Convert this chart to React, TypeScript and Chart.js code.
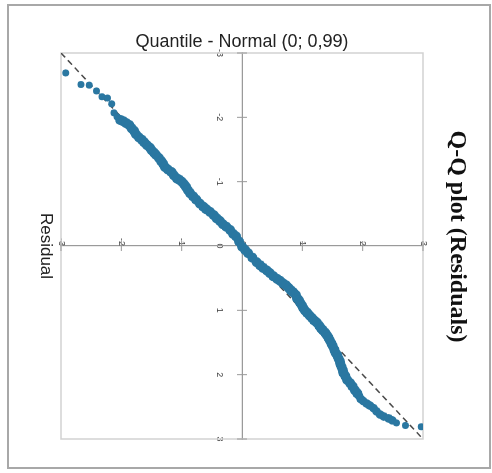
import React, { useEffect, useRef } from 'react';
import { Chart, registerables } from 'chart.js';

Chart.register(...registerables);

// Residuals (x) and theoretical normal quantiles (y), sorted
const residuals = [
  -2.69, -2.51, -2.50, -2.41, -2.32, -2.30, -2.21, -2.07, -2.01, -1.96,
  -1.94, -1.91, -1.88, -1.83, -1.79, -1.74, -1.69, -1.65, -1.61, -1.57,
  -1.53, -1.49, -1.45, -1.42, -1.37, -1.32, -1.28, -1.23, -1.19, -1.15,
  -1.10, -1.05, -1.03, -1.00, -0.96, -0.92, -0.87, -0.82, -0.77, -0.72,
  -0.66, -0.61, -0.57, -0.53, -0.48, -0.43, -0.39, -0.34, -0.30, -0.25,
  -0.19, -0.15, -0.07, 0.01, 0.06, 0.11, 0.18, 0.25, 0.30, 0.34,
  0.38, 0.42, 0.47, 0.51, 0.54, 0.58, 0.61, 0.65, 0.69, 0.72,
  0.76, 0.81, 0.84, 0.88, 0.92, 0.96, 1.00, 1.04, 1.08, 1.12,
  1.16, 1.19, 1.24, 1.28, 1.31, 1.35, 1.38, 1.42, 1.46, 1.51,
  1.55, 1.61, 1.66, 1.70, 1.75, 1.79, 1.83, 1.88, 1.93, 1.97,
  2.02, 2.08, 2.13, 2.18, 2.24, 2.29, 2.33, 2.38, 2.41, 2.45,
  2.48, 2.52, 2.57, 2.62, 2.65, 2.68, 2.71, 2.75, 2.79, 2.81,
];

const normalQuantiles = [
  -2.92, -2.67, -2.53, -2.41, -2.32, -2.23, -2.16, -2.12, -2.07, -2.02,
  -1.97, -1.92, -1.87, -1.83, -1.79, -1.76, -1.71, -1.66, -1.62, -1.58,
  -1.53, -1.50, -1.46, -1.43, -1.38, -1.34, -1.31, -1.28, -1.23, -1.17,
  -1.13, -1.08, -1.04, -1.00, -0.96, -0.93, -0.90, -0.86, -0.81, -0.76,
  -0.70, -0.64, -0.59, -0.53, -0.47, -0.42, -0.37, -0.32, -0.26, -0.20,
  -0.15, -0.10, -0.05, 0.00, 0.05, 0.10, 0.17, 0.24, 0.30, 0.35,
  0.41, 0.46, 0.52, 0.58, 0.63, 0.68, 0.73, 0.77, 0.81, 0.85,
  0.89, 0.91, 0.94, 0.96, 0.99, 1.01, 1.04, 1.08, 1.12, 1.16,
  1.20, 1.24, 1.28, 1.31, 1.34, 1.38, 1.40, 1.43, 1.45, 1.48,
  1.50, 1.53, 1.55, 1.58, 1.60, 1.62, 1.63, 1.65, 1.67, 1.68,
  1.71, 1.74, 1.79, 1.83, 1.87, 1.91, 1.94, 1.97, 2.01, 2.07,
  2.12, 2.18, 2.23, 2.29, 2.35, 2.43, 2.49, 2.56, 2.71, 2.97,
];

const refLineX = [-3, 3];
const refLineY = [-3, 3];
const tickValues = [-3, -2, -1, 0, 1, 2, 3];

const chartTitle = 'Q-Q plot (Residuals)';
const xAxisTitle = 'Residual';
const yAxisTitle = 'Quantile - Normal (0; 0,99)';

const W = 463;
const H = 484;
const SANS = "'Liberation Sans', Arial, sans-serif";
const SERIF = "'Liberation Serif', 'Times New Roman', serif";

const frameAndTicks = {
  id: 'frameAndTicks',
  beforeDatasetsDraw(chart: any) {
    const { ctx, chartArea: a } = chart;
    const xs = chart.scales.x;
    const ys = chart.scales.y;
    ctx.save();
    ctx.strokeStyle = '#d2d2d2';
    ctx.lineWidth = 1.5;
    ctx.strokeRect(a.left, a.top, a.right - a.left, a.bottom - a.top);
    const x0 = xs.getPixelForValue(0);
    const y0 = ys.getPixelForValue(0);
    ctx.strokeStyle = '#9a9a9a';
    ctx.lineWidth = 1;
    ctx.beginPath();
    tickValues.forEach((v) => {
      const px = xs.getPixelForValue(v);
      ctx.moveTo(px, y0 - 5);
      ctx.lineTo(px, y0 + 5);
      const py = ys.getPixelForValue(v);
      ctx.moveTo(x0 - 5, py);
      ctx.lineTo(x0 + 5, py);
    });
    ctx.stroke();
    ctx.restore();
  },
};

// isolated tail points are drawn smaller than the dense central band
const pointSize = (ctx: any) => {
  const i = ctx.dataIndex;
  const n = residuals.length;
  if (i < 9 || i > n - 4) return 3.5;
  if (i > n - 15) return 4.3;
  return 5;
};

export default function App() {
  const ref = useRef<HTMLCanvasElement | null>(null);

  useEffect(() => {
    if (!ref.current) return;
    const points = residuals.map((r, i) => ({ x: r, y: normalQuantiles[i] }));
    const refLine = refLineX.map((x, i) => ({ x, y: refLineY[i] }));
    const setTicks = (s: any) => {
      s.ticks = tickValues.map((v) => ({ value: v }));
    };
    const dummy = {
      type: 'linear',
      display: true,
      border: { display: false },
      grid: { display: false, drawTicks: false },
      ticks: { display: false },
    };
    const chart = new Chart(ref.current, {
      type: 'scatter',
      data: {
        datasets: [
          {
            type: 'line',
            label: 'Reference',
            data: refLine,
            xAxisID: 'x',
            yAxisID: 'y',
            borderColor: '#4a4a4a',
            borderWidth: 1.5,
            borderDash: [6, 4],
            pointRadius: 0,
            fill: false,
            order: 1,
          } as any,
          {
            label: 'Residuals',
            data: points,
            xAxisID: 'x',
            yAxisID: 'y',
            backgroundColor: '#2a77a1',
            borderWidth: 0,
            pointRadius: pointSize,
            order: 0,
          },
        ],
      },
      options: {
        animation: false,
        responsive: false,
        events: [],
        layout: { padding: 0 },
        plugins: {
          legend: { display: false },
          tooltip: { enabled: false },
          title: {
            display: true,
            text: chartTitle,
            color: '#111',
            font: { family: SERIF, size: 24, weight: 'bold', lineHeight: 1.2 },
            padding: { top: 19.6, bottom: 19.6 },
          },
        },
        scales: {
          x: {
            type: 'linear',
            position: { y: 0 } as any,
            min: -3,
            max: 3,
            afterBuildTicks: setTicks,
            border: { display: true, color: '#9a9a9a', width: 1.2 },
            grid: { display: false, drawTicks: false },
            ticks: {
              autoSkip: false,
              maxRotation: 0,
              padding: 17,
              color: '#444',
              font: { family: SANS, size: 9 },
            },
          },
          y: {
            type: 'linear',
            position: { x: 0 } as any,
            min: -3,
            max: 3,
            afterBuildTicks: setTicks,
            border: { display: true, color: '#9a9a9a', width: 1.2 },
            grid: { display: false, drawTicks: false },
            ticks: {
              autoSkip: false,
              padding: 15,
              color: '#444',
              font: { family: SANS, size: 9 },
            },
          },
          xTitle: {
            ...dummy,
            axis: 'x',
            position: 'bottom',
            afterFit: (s: any) => { s.height = 54; },
            title: {
              display: true,
              text: xAxisTitle,
              color: '#222',
              font: { family: SANS, size: 17, lineHeight: 1.2 },
              padding: { top: 4.8, bottom: 28.8 },
            },
          },
          yTitle: {
            ...dummy,
            axis: 'y',
            position: 'left',
            afterFit: (s: any) => { s.width = 48; },
            title: {
              display: true,
              text: yAxisTitle,
              color: '#222',
              font: { family: SANS, size: 18, lineHeight: 1.2 },
              padding: { top: 26.7, bottom: 0 },
            },
          },
          yRightSpace: {
            ...dummy,
            axis: 'y',
            position: 'right',
            afterFit: (s: any) => { s.width = 29; },
          },
        } as any,
      },
      plugins: [frameAndTicks],
    });
    return () => chart.destroy();
  }, []);

  return (
    <div>
      <div
        style={{
          position: 'absolute',
          left: 7,
          top: 5,
          width: W,
          height: H,
          transformOrigin: '0 0',
          transform: `translateX(${H}px) rotate(90deg)`,
          background: '#fff',
        }}
      >
        <canvas ref={ref} width={W} height={H} style={{ display: 'block', width: W, height: H }} />
      </div>
      <div
        style={{
          position: 'absolute',
          left: 7,
          top: 4,
          width: 484,
          height: 465,
          border: '2px solid #a8a8a8',
          boxSizing: 'border-box',
          pointerEvents: 'none',
        }}
      />
    </div>
  );
}
